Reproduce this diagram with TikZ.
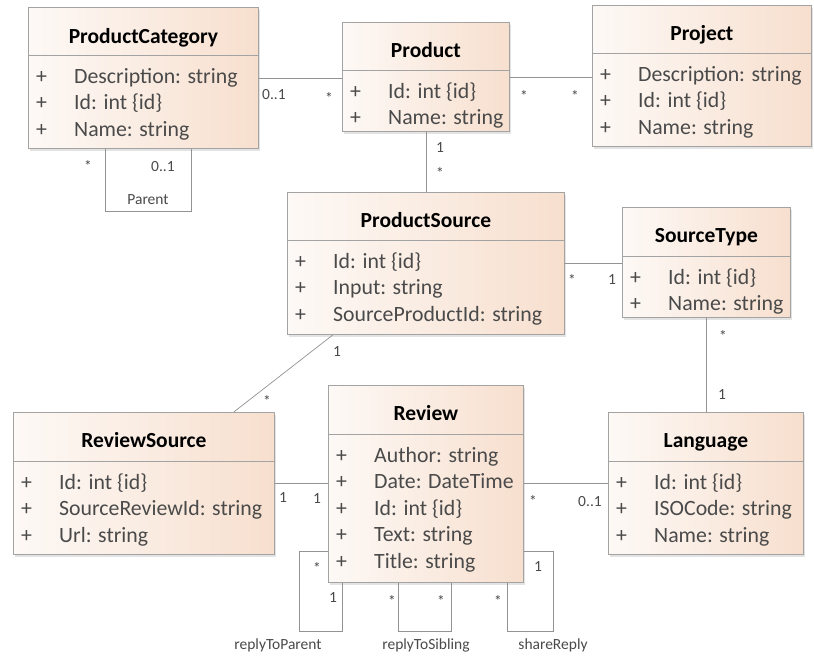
\documentclass[tikz,border=0pt]{standalone}
\usepackage{fontspec}
\setmainfont{Carlito}
\usetikzlibrary{shadows}

\definecolor{boxline}{HTML}{A3A3A3}
\definecolor{boxleft}{HTML}{FDF9F6}
\definecolor{boxright}{HTML}{F7DFCE}
\definecolor{attrtext}{HTML}{4A4A4A}
\definecolor{assoc}{HTML}{939393}

\newcommand{\attrplus}{\makebox[38pt][l]{+}}

\tikzset{
  classbox/.style={draw=boxline, line width=0.8pt, left color=boxleft, right color=boxright,
    anchor=north west, inner sep=0pt,
    drop shadow={opacity=0.22, shadow xshift=2pt, shadow yshift=-3pt}},
  classname/.style={anchor=base, inner sep=0pt, font=\fontsize{21.5}{24}\selectfont\bfseries},
  attr/.style={anchor=base west, inner sep=0pt, text=attrtext, font=\fontsize{21.8}{24}\selectfont},
  mult/.style={inner sep=0pt, text=attrtext, font=\fontsize{15.5}{18}\selectfont},
  sepline/.style={draw=boxline, line width=0.8pt},
  assocline/.style={draw=assoc, line width=0.7pt},
}

\begin{document}
\begin{tikzpicture}[x=1pt,y=-1pt]
  \useasboundingbox[fill=white] (0,0) rectangle (814,659);

  % classes
  \node[classbox, minimum width=230pt, minimum height=141pt] (cat) at (28,7) {};
  \node[classname] (cat-name) at ([yshift=-36pt]cat.north) {ProductCategory};
  \draw[sepline] ([yshift=-48pt]cat.north west) -- ([yshift=-48pt]cat.north east);
  \node[attr] (cat-a1) at (36,83) {\attrplus Description: string};
  \node[attr] (cat-a2) at (36,109.5) {\attrplus Id: int \{id\}};
  \node[attr] (cat-a3) at (36,136) {\attrplus Name: string};

  \node[classbox, minimum width=167pt, minimum height=109pt] (prod) at (342,22) {};
  \node[classname] (prod-name) at ([yshift=-35pt]prod.north) {Product};
  \draw[sepline] ([yshift=-48pt]prod.north west) -- ([yshift=-48pt]prod.north east);
  \node[attr] (prod-a1) at (350,98) {\attrplus Id: int \{id\}};
  \node[attr] (prod-a2) at (350,124.5) {\attrplus Name: string};

  \node[classbox, minimum width=219pt, minimum height=141pt] (proj) at (592,5) {};
  \node[classname] (proj-name) at ([yshift=-35pt]proj.north) {Project};
  \draw[sepline] ([yshift=-48pt]proj.north west) -- ([yshift=-48pt]proj.north east);
  \node[attr] (proj-a1) at (600,81) {\attrplus Description: string};
  \node[attr] (proj-a2) at (600,107.5) {\attrplus Id: int \{id\}};
  \node[attr] (proj-a3) at (600,134) {\attrplus Name: string};

  \node[classbox, minimum width=277pt, minimum height=142pt] (psrc) at (287,192) {};
  \node[classname] (psrc-name) at ([yshift=-35pt]psrc.north) {ProductSource};
  \draw[sepline] ([yshift=-48pt]psrc.north west) -- ([yshift=-48pt]psrc.north east);
  \node[attr] (psrc-a1) at (295,268) {\attrplus Id: int \{id\}};
  \node[attr] (psrc-a2) at (295,294.5) {\attrplus Input: string};
  \node[attr] (psrc-a3) at (295,321) {\attrplus SourceProductId: string};

  \node[classbox, minimum width=168pt, minimum height=110pt] (stype) at (622,207) {};
  \node[classname] (stype-name) at ([yshift=-35pt]stype.north) {SourceType};
  \draw[sepline] ([yshift=-49pt]stype.north west) -- ([yshift=-49pt]stype.north east);
  \node[attr] (stype-a1) at (630,284) {\attrplus Id: int \{id\}};
  \node[attr] (stype-a2) at (630,310.5) {\attrplus Name: string};

  \node[classbox, minimum width=261pt, minimum height=142pt] (rsrc) at (13,412) {};
  \node[classname] (rsrc-name) at ([yshift=-35pt]rsrc.north) {ReviewSource};
  \draw[sepline] ([yshift=-49pt]rsrc.north west) -- ([yshift=-49pt]rsrc.north east);
  \node[attr] (rsrc-a1) at (21,489) {\attrplus Id: int \{id\}};
  \node[attr] (rsrc-a2) at (21,515.5) {\attrplus SourceReviewId: string};
  \node[attr] (rsrc-a3) at (21,542) {\attrplus Url: string};

  \node[classbox, minimum width=195pt, minimum height=197pt] (rev) at (328,385) {};
  \node[classname] (rev-name) at ([yshift=-35pt]rev.north) {Review};
  \draw[sepline] ([yshift=-49pt]rev.north west) -- ([yshift=-49pt]rev.north east);
  \node[attr] (rev-a1) at (336,462) {\attrplus Author: string};
  \node[attr] (rev-a2) at (336,488.5) {\attrplus Date: DateTime};
  \node[attr] (rev-a3) at (336,515) {\attrplus Id: int \{id\}};
  \node[attr] (rev-a4) at (336,541.5) {\attrplus Text: string};
  \node[attr] (rev-a5) at (336,568) {\attrplus Title: string};

  \node[classbox, minimum width=195pt, minimum height=142pt] (lang) at (608,412) {};
  \node[classname] (lang-name) at ([yshift=-35pt]lang.north) {Language};
  \draw[sepline] ([yshift=-49pt]lang.north west) -- ([yshift=-49pt]lang.north east);
  \node[attr] (lang-a1) at (616,489) {\attrplus Id: int \{id\}};
  \node[attr] (lang-a2) at (616,515.5) {\attrplus ISOCode: string};
  \node[attr] (lang-a3) at (616,542) {\attrplus Name: string};

  % associations
  \draw[assocline] (cat.east) -- (cat.east -| prod.west);
  \draw[assocline] (prod.east) -- (prod.east -| proj.west);
  \draw[assocline] (prod.south) -- (prod.south |- psrc.north);
  \draw[assocline] (psrc.east) -- (psrc.east -| stype.west);
  \draw[assocline] (stype.south) -- (stype.south |- lang.north);
  \draw[assocline] ([xshift=46pt]psrc.south west) -- ([xshift=-41pt]rsrc.north east);
  \draw[assocline] (rsrc.east) -- (rsrc.east -| rev.west);
  \draw[assocline] (lang.west) -- (lang.west -| rev.east);
  \draw[assocline] ([xshift=77pt]cat.south west) -- ++(0,63) -- ++(86,0) -- ([xshift=163pt]cat.south west);
  \draw[assocline] ([yshift=31pt]rev.south west) -- ++(-29,0) -- ++(0,80) -- ++(43,0) -- ([xshift=14pt]rev.south west);
  \draw[assocline] ([xshift=70pt]rev.south west) -- ++(0,49) -- ++(53,0) -- ([xshift=123pt]rev.south west);
  \draw[assocline] ([xshift=-16pt]rev.south east) -- ++(0,49) -- ++(46,0) -- ++(0,-80) -- ([yshift=31pt]rev.south east);

  % multiplicities
  \node[mult] (m1) at (274,95) {0..1};
  \node[mult] (m2) at (329,98) {*};
  \node[mult] (m3) at (524,96) {*};
  \node[mult] (m4) at (575,96) {*};
  \node[mult] (m5) at (440,148) {1};
  \node[mult] (m6) at (440,173) {*};
  \node[mult] (m7) at (88,166) {*};
  \node[mult] (m8) at (163,167) {0..1};
  \node[mult] (m9) at (148,200) {Parent};
  \node[mult] (m10) at (572,280) {*};
  \node[mult] (m11) at (612,280) {1};
  \node[mult] (m12) at (337,352) {1};
  \node[mult] (m13) at (267,401) {*};
  \node[mult] (m14) at (723,336) {*};
  \node[mult] (m15) at (722,395) {1};
  \node[mult] (m16) at (283,498) {1};
  \node[mult] (m17) at (317,499) {1};
  \node[mult] (m18) at (533,501) {*};
  \node[mult] (m19) at (590,502) {0..1};
  \node[mult] (m20) at (317,568) {*};
  \node[mult] (m21) at (333,598) {1};
  \node[mult] (m22) at (392,601) {*};
  \node[mult] (m23) at (441,601) {*};
  \node[mult] (m24) at (498,601) {*};
  \node[mult] (m25) at (538,567) {1};
  \node[mult] (m26) at (278,645) {replyToParent};
  \node[mult] (m27) at (426,645) {replyToSibling};
  \node[mult] (m28) at (553,645) {shareReply};
\end{tikzpicture}
\end{document}
